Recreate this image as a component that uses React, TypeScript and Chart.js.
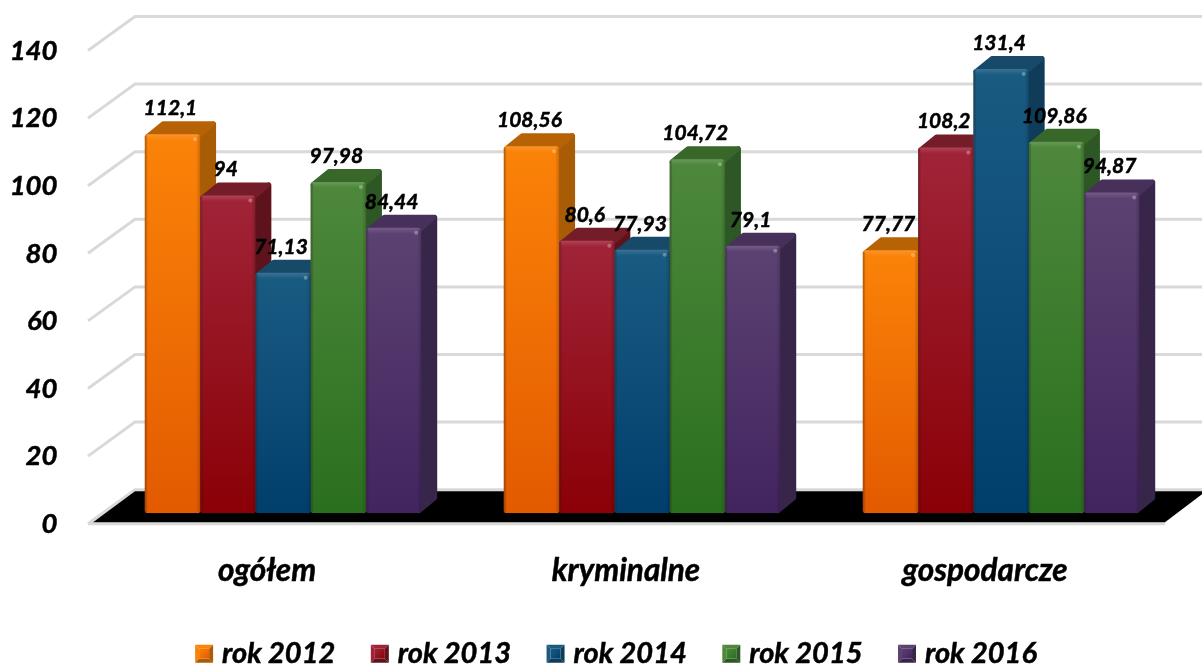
import React, { useEffect, useRef } from "react";
import { Chart, registerables } from "chart.js";

Chart.register(...registerables);

const categories = ["ogółem", "kryminalne", "gospodarcze"];
const seriesNames = ["rok 2012", "rok 2013", "rok 2014", "rok 2015", "rok 2016"];
const y2012 = [112.1, 108.56, 77.77];
const y2013 = [94, 80.6, 108.2];
const y2014 = [71.13, 77.93, 131.4];
const y2015 = [97.98, 104.72, 109.86];
const y2016 = [84.44, 79.1, 94.87];
const seriesValues = [y2012, y2013, y2014, y2015, y2016];

const faceTop = ["#fb8308", "#a02438", "#1a5b82", "#4e883c", "#5c4272"];
const faceBottom = ["#e35a00", "#8a0006", "#003f6c", "#2a6f1e", "#42245f"];
const sideTone = ["#a85c06", "#5e121c", "#0f3c58", "#2d5724", "#38264a"];
const topTone = ["#b86206", "#741c28", "#174a68", "#38672a", "#47315a"];

const FONT = "Lato, Carlito, 'Open Sans', sans-serif";
const LEGEND_SIZE = 29;
const DX = 16;
const DY = 13;

const threeD = {
  id: "threeD",
  afterLayout(chart: any) {
    chart.scales.y.left = 0;
  },
  beforeDatasetsDraw(chart: any) {
    const { ctx, scales } = chart;
    const ys = scales.y;
    const y0 = ys.getPixelForValue(0);
    ctx.save();
    // perspective grid lines
    ctx.strokeStyle = "#d9d9d9";
    ctx.lineWidth = 3;
    ctx.lineJoin = "miter";
    ys.ticks.forEach((t: any) => {
      const p = ys.getPixelForValue(t.value);
      ctx.beginPath();
      ctx.moveTo(88, p + 10.5);
      if (t.value === 0) ctx.lineTo(1165, p + 10.5);
      ctx.moveTo(88, p + 10.5);
      ctx.lineTo(135, p - 23.5);
      ctx.lineTo(1202, p - 23.5);
      ctx.stroke();
    });
    // black floor
    ctx.fillStyle = "#000";
    ctx.beginPath();
    ctx.moveTo(93, y0 + 9);
    ctx.lineTo(135, y0 - 22);
    ctx.lineTo(1202, y0 - 22);
    ctx.lineTo(1202, y0 - 19);
    ctx.lineTo(1165, y0 + 9);
    ctx.closePath();
    ctx.fill();
    // side and top faces, left to right
    ctx.lineJoin = "round";
    ctx.lineWidth = 5;
    const inset = 2.5;
    seriesValues.forEach((_, di) => {
      const meta = chart.getDatasetMeta(di);
      meta.data.forEach((bar: any) => {
        const { x, y, base, width } = bar.getProps(["x", "y", "base", "width"]);
        const l = x - width / 2;
        const r = x + width / 2;
        ctx.fillStyle = sideTone[di];
        ctx.strokeStyle = sideTone[di];
        ctx.beginPath();
        ctx.moveTo(r - inset, y + inset);
        ctx.lineTo(r + DX - inset, y - DY + inset);
        ctx.lineTo(r + DX - inset, base - DY - inset);
        ctx.lineTo(r - inset, base - inset);
        ctx.closePath();
        ctx.fill();
        ctx.stroke();
        ctx.fillStyle = topTone[di];
        ctx.strokeStyle = topTone[di];
        ctx.beginPath();
        ctx.moveTo(l + inset, y + inset);
        ctx.lineTo(l + DX + inset, y - DY + inset);
        ctx.lineTo(r + DX - inset - 1, y - DY + inset);
        ctx.lineTo(r - inset, y + inset);
        ctx.closePath();
        ctx.fill();
        ctx.stroke();
      });
    });
    ctx.restore();
  },
  afterDatasetsDraw(chart: any) {
    const { ctx } = chart;
    ctx.save();
    // soft bevel on the front faces
    seriesValues.forEach((_, di) => {
      chart.getDatasetMeta(di).data.forEach((bar: any) => {
        const { x, y, base, width } = bar.getProps(["x", "y", "base", "width"]);
        const l = x - width / 2;
        const r = x + width / 2;
        const lip = ctx.createLinearGradient(0, y, 0, y + 6);
        lip.addColorStop(0, "rgba(255,255,255,0.14)");
        lip.addColorStop(1, "rgba(255,255,255,0)");
        ctx.fillStyle = lip;
        ctx.fillRect(l + 2, y, width - 4, 6);
        ctx.fillStyle = "rgba(255,255,255,0.3)";
        ctx.beginPath();
        ctx.arc(r - 5, y + 5, 2, 0, Math.PI * 2);
        ctx.fill();
        const g = ctx.createLinearGradient(r - 4, 0, r, 0);
        g.addColorStop(0, "rgba(0,0,0,0)");
        g.addColorStop(1, "rgba(0,0,0,0.18)");
        ctx.fillStyle = g;
        ctx.fillRect(r - 4, y + 2, 4, base - y - 3);
        const g2 = ctx.createLinearGradient(l, 0, l + 3, 0);
        g2.addColorStop(0, "rgba(70,50,40,0.45)");
        g2.addColorStop(1, "rgba(0,0,0,0)");
        ctx.fillStyle = g2;
        ctx.fillRect(l, y + 2, 3, base - y - 3);
      });
    });
    // value labels
    ctx.fillStyle = "#000";
    ctx.strokeStyle = "#000";
    ctx.lineWidth = 0.5;
    ctx.font = `italic bold 21px ${FONT}`;
    ctx.textAlign = "center";
    ctx.textBaseline = "middle";
    seriesValues.forEach((vals, di) => {
      chart.getDatasetMeta(di).data.forEach((bar: any, i: number) => {
        const { x, y } = bar.getProps(["x", "y"]);
        const s = String(vals[i]).replace(".", ",");
        ctx.fillText(s, x - 2, y - 26);
        ctx.strokeText(s, x - 2, y - 26);
      });
    });
    ctx.restore();
  },
  afterDraw(chart: any) {
    const { ctx } = chart;
    const boxes = chart.legend?.legendHitBoxes ?? [];
    ctx.save();
    boxes.forEach((h: any, di: number) => {
      const s = 18;
      const bx = h.left;
      const by = h.top + h.height / 2 - s / 2;
      const inset = 4;
      const tri = (pts: number[][], color: any) => {
        ctx.fillStyle = color;
        ctx.beginPath();
        pts.forEach((p, k) => (k ? ctx.lineTo(p[0], p[1]) : ctx.moveTo(p[0], p[1])));
        ctx.closePath();
        ctx.fill();
      };
      const x1 = bx + s;
      const y1 = by + s;
      const ix0 = bx + inset;
      const iy0 = by + inset;
      const ix1 = x1 - inset;
      const iy1 = y1 - inset;
      const mid = ctx.createLinearGradient(ix0, iy0, ix1, iy1);
      mid.addColorStop(0, faceTop[di]);
      mid.addColorStop(1, faceBottom[di]);
      tri([[bx, by], [x1, by], [ix1, iy0], [ix0, iy0]], faceTop[di]);
      tri([[bx, by], [ix0, iy0], [ix0, iy1], [bx, y1]], faceTop[di]);
      tri([[x1, by], [x1, y1], [ix1, iy1], [ix1, iy0]], sideTone[di]);
      tri([[bx, y1], [ix0, iy1], [ix1, iy1], [x1, y1]], sideTone[di]);
      tri([[ix0, iy0], [ix1, iy0], [ix1, iy1], [ix0, iy1]], mid);
      // thicken the legend text to the weight of the other labels
      ctx.strokeStyle = "#000";
      ctx.lineWidth = 0.5;
      ctx.font = `italic bold ${LEGEND_SIZE}px ${FONT}`;
      ctx.textAlign = "left";
      ctx.textBaseline = "middle";
      ctx.strokeText(seriesNames[di], h.left + 27, h.top + h.height / 2);
    });
    ctx.restore();
  },
};

const noPad = (s: any) => {
  s.paddingTop = 0;
  s.paddingBottom = 0;
  s.paddingLeft = 0;
  s.paddingRight = 0;
};

export default function App() {
  const ref = useRef<HTMLCanvasElement>(null);
  useEffect(() => {
    if (!ref.current) return;
    const chart = new Chart(ref.current, {
      type: "bar",
      data: {
        labels: categories,
        datasets: seriesNames.map((name, di) => ({
          label: name,
          data: seriesValues[di],
          borderRadius: 3,
          borderSkipped: false,
          backgroundColor: (c: any) => {
            const ys = c.chart.scales.y;
            if (!ys || c.raw === undefined) return faceBottom[di];
            const g = c.chart.ctx.createLinearGradient(0, ys.getPixelForValue(c.raw), 0, ys.getPixelForValue(0));
            g.addColorStop(0, faceTop[di]);
            g.addColorStop(1, faceBottom[di]);
            return g;
          },
        })),
      },
      options: {
        responsive: false,
        animation: false,
        layout: { padding: { left: 51.5, right: 21.5, top: 40, bottom: -12.2 } },
        datasets: { bar: { categoryPercentage: 0.77, barPercentage: 1 } },
        plugins: {
          tooltip: { enabled: false },
          legend: {
            position: "bottom",
            labels: {
              boxWidth: 12.5,
              boxHeight: 18,
              padding: 35.5,
              color: "#000",
              font: { family: FONT, size: LEGEND_SIZE, style: "italic", weight: "bold" },
              generateLabels: (chart: any) =>
                chart.data.datasets.map((d: any, i: number) => ({
                  text: d.label,
                  fillStyle: "rgba(0,0,0,0)",
                  strokeStyle: "rgba(0,0,0,0)",
                  lineWidth: 0,
                  datasetIndex: i,
                  hidden: false,
                })),
            },
          },
        },
        scales: {
          x: {
            grid: { display: false },
            border: { display: false },
            afterFit: (s: any) => {
              s.height = 90.5;
              noPad(s);
            },
            ticks: {
              padding: 31,
              labelOffset: -16,
              maxRotation: 0,
              color: "#000",
              textStrokeColor: "#000",
              textStrokeWidth: 0.5,
              font: { family: FONT, size: 31.5, style: "italic", weight: "bold" },
            },
          },
          y: {
            min: 0,
            max: 140,
            grid: { display: false },
            border: { display: false },
            afterFit: (s: any) => {
              s.width = 52;
              noPad(s);
            },
            ticks: {
              stepSize: 20,
              padding: 38,
              labelOffset: 11,
              color: "#000",
              textStrokeColor: "#000",
              textStrokeWidth: 0.5,
              font: { family: FONT, size: 27.5, style: "italic", weight: "bold" },
            },
          },
        },
      } as any,
      plugins: [threeD],
    });
    return () => chart.destroy();
  }, []);
  return (
    <div style={{ position: "absolute", left: 0, top: 0, width: 1202, height: 666, overflow: "hidden", background: "#fff" }}>
      <canvas ref={ref} width={1202} height={666} style={{ display: "block" }} />
    </div>
  );
}
